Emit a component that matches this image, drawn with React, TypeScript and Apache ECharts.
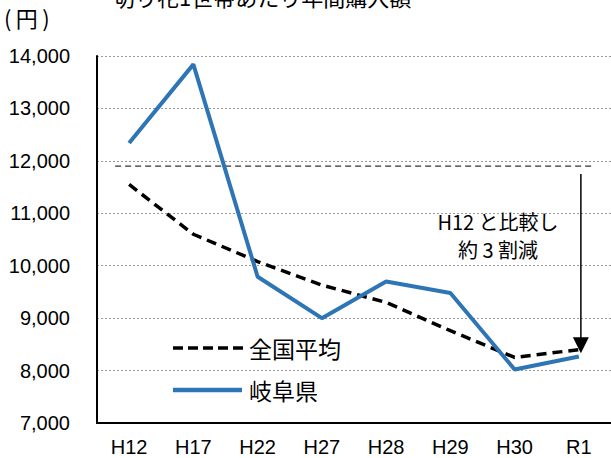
import React, { useEffect, useRef } from "react";
import * as echarts from "echarts";

const categories = ["H12", "H17", "H22", "H27", "H28", "H29", "H30", "R1"];
const nationalAvg = [11550, 10600, 10080, 9630, 9300, 8760, 8250, 8400];
const gifu = [12340, 13840, 9790, 9000, 9700, 9480, 8020, 8270];
const yTicks = { min: 7000, max: 14000, interval: 1000 };
const referenceLevel = 11900;
const arrowEnd = 8330;
const seriesNames = ["全国平均", "岐阜県"];
const titleText = "切り花1世帯あたり年間購入額";
const unitText = "(\u2009円\u2009)";
const noteLines = ["H12 と比較し", "約 3 割減"];

const JP = '"Noto Sans CJK JP", "Noto Sans", sans-serif';
const LAT = '"Liberation Sans", Arial, sans-serif';
const BLUE = "#2e75b6";

export default function App() {
  const ref = useRef<HTMLDivElement>(null);
  useEffect(() => {
    if (!ref.current) return;
    const chart = echarts.init(ref.current, null, { renderer: "svg" });
    chart.setOption({
      animation: false,
      backgroundColor: "#ffffff",
      grid: { left: 97, right: -2, top: 56, bottom: 35, containLabel: false },
      xAxis: {
        type: "category",
        data: categories,
        boundaryGap: true,
        axisLine: { lineStyle: { color: "#000", width: 2 } },
        axisTick: { show: false },
        axisLabel: { color: "#000", fontSize: 20, fontFamily: LAT, margin: 14 },
        splitLine: { show: false },
      },
      yAxis: {
        type: "value",
        min: yTicks.min,
        max: yTicks.max,
        interval: yTicks.interval,
        axisLine: { show: true, lineStyle: { color: "#000", width: 2 } },
        axisTick: { show: false },
        axisLabel: {
          color: "#000",
          fontSize: 20,
          fontFamily: LAT,
          margin: 27,
          formatter: (v: number) => v.toLocaleString("en-US"),
        },
        splitLine: { lineStyle: { color: "#9a9a9a", width: 1, type: [2, 2] } },
      },
      series: [
        {
          name: seriesNames[0],
          type: "line",
          data: nationalAvg,
          symbol: "none",
          lineStyle: { color: "#000", width: 3.5, type: [10, 6] },
          itemStyle: { color: "#000" },
          z: 3,
        },
        {
          name: seriesNames[1],
          type: "line",
          data: gifu,
          symbol: "none",
          lineStyle: { color: BLUE, width: 4 },
          itemStyle: { color: BLUE },
          z: 4,
        },
      ],
    });

    const [x0, yRef] = chart.convertToPixel({ gridIndex: 0 }, [0, referenceLevel]) as number[];
    const [xR1, yEnd] = chart.convertToPixel({ gridIndex: 0 }, [categories.length - 1, arrowEnd]) as number[];
    const xArrow = xR1 + 2;
    chart.setOption({
      graphic: [
        {
          type: "text",
          left: 113,
          top: -15,
          style: { text: titleText, fontSize: 22, fontFamily: JP, fill: "#000" },
        },
        {
          type: "text",
          left: 4,
          top: 6,
          style: { text: unitText, fontSize: 22, fontFamily: JP, fill: "#000" },
        },
        {
          type: "line",
          shape: { x1: x0 - 14, y1: yRef, x2: xArrow + 13, y2: yRef },
          style: { stroke: "#000", lineWidth: 1, lineDash: [6, 4] },
        },
        {
          type: "line",
          shape: { x1: xArrow, y1: yRef + 8, x2: xArrow, y2: yEnd - 14 },
          style: { stroke: "#000", lineWidth: 1.5 },
        },
        {
          type: "polygon",
          shape: { points: [[xArrow - 8, yEnd - 16], [xArrow + 8, yEnd - 16], [xArrow, yEnd]] },
          style: { fill: "#000" },
        },
        ...noteLines.map((line, i) => ({
          type: "text",
          x: 498,
          y: 221 + i * 28,
          style: {
            text: line,
            fontSize: 20,
            lineHeight: 22,
            fontFamily: JP,
            fill: "#000",
            align: "center",
            verticalAlign: "middle",
          },
        })),
        // legend
        {
          type: "line",
          shape: { x1: 173, y1: 348, x2: 244, y2: 348 },
          style: { stroke: "#000", lineWidth: 3.5, lineDash: [10, 5] },
        },
        {
          type: "text",
          x: 249,
          y: 348,
          style: { text: seriesNames[0], fontSize: 23, fontFamily: JP, fill: "#000", verticalAlign: "middle" },
        },
        {
          type: "line",
          shape: { x1: 173, y1: 390, x2: 242, y2: 390 },
          style: { stroke: BLUE, lineWidth: 4.5 },
        },
        {
          type: "text",
          x: 249,
          y: 390,
          style: { text: seriesNames[1], fontSize: 23, fontFamily: JP, fill: "#000", verticalAlign: "middle" },
        },
      ],
    });
    return () => chart.dispose();
  }, []);
  return (
    <div
      ref={ref}
      style={{ position: "fixed", left: 0, top: 0, width: 611, height: 458, background: "#fff" }}
    />
  );
}
